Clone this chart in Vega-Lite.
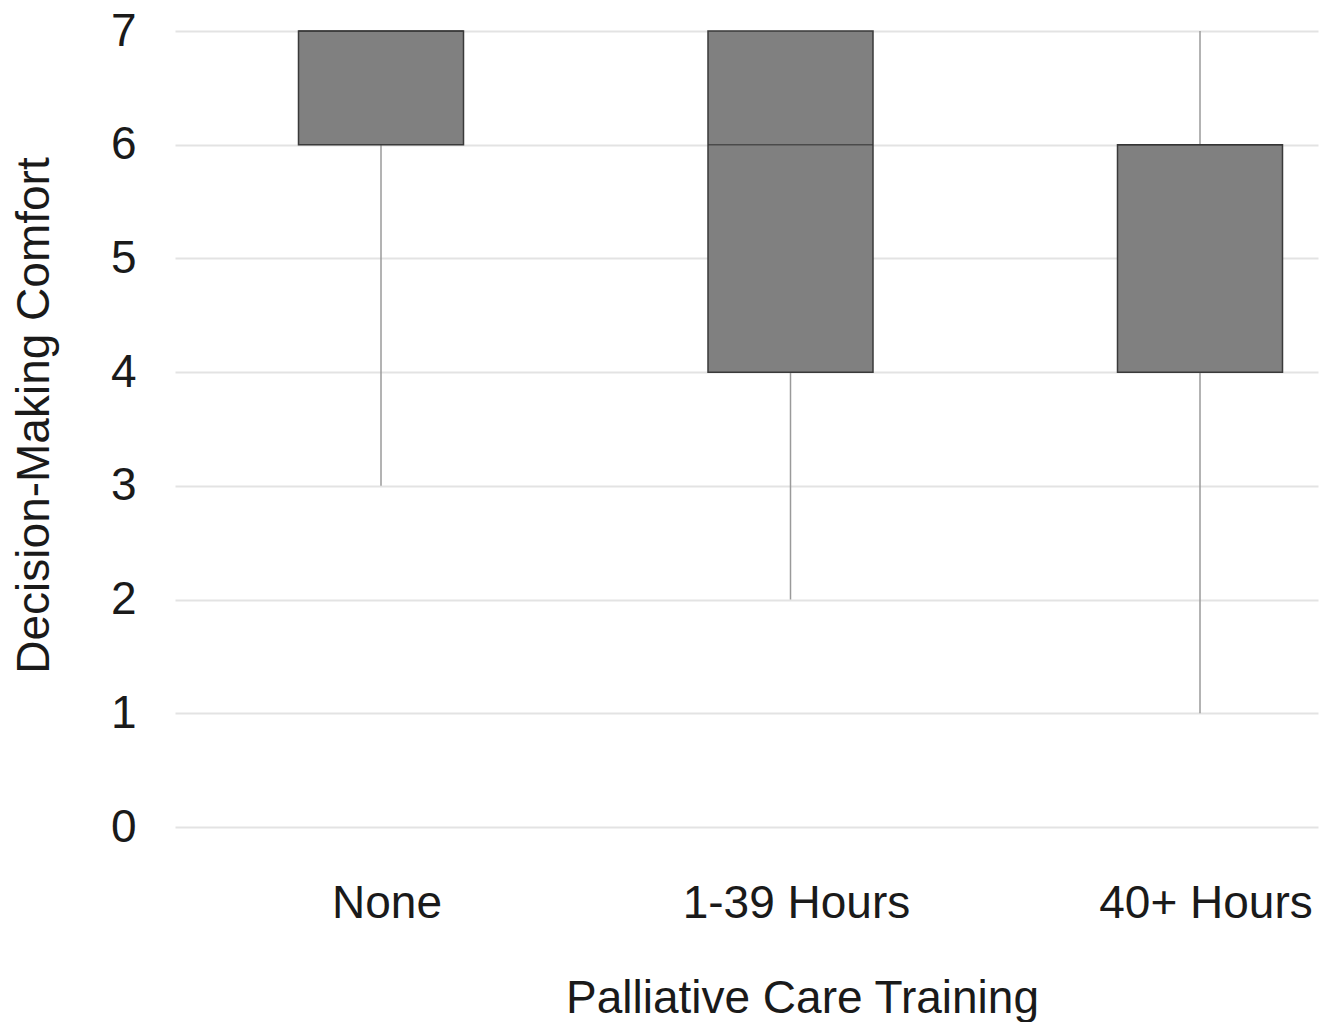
{
  "$schema": "https://vega.github.io/schema/vega-lite/v6.json",
  "width": 1143,
  "height": 796,
  "autosize": "none",
  "padding": {"left": 175, "top": 31, "right": 11, "bottom": 195},
  "background": "white",
  "config": {
    "view": {"stroke": null},
    "font": "Liberation Sans"
  },
  "data": {
    "values": [
      {"training": "None", "lower": 3, "q1": 6, "median": 7, "q3": 7, "upper": 7},
      {"training": "1-39 Hours", "lower": 2, "q1": 4, "median": 6, "q3": 7, "upper": 7},
      {"training": "40+ Hours", "lower": 1, "q1": 4, "median": 6, "q3": 6, "upper": 7}
    ]
  },
  "encoding": {
    "x": {
      "field": "training",
      "type": "nominal",
      "sort": ["None", "1-39 Hours", "40+ Hours"],
      "scale": {"paddingInner": 0.5, "paddingOuter": 0.1456, "align": 0.869},
      "axis": {
        "title": "Palliative Care Training",
        "labelAngle": 0,
        "labelLimit": 0,
        "domain": false,
        "ticks": false,
        "tickSize": 0,
        "grid": false,
        "labelFont": "Liberation Sans",
        "labelFontSize": 46,
        "labelColor": "#1a1a1a",
        "labelBaseline": "alphabetic",
        "labelPadding": 90,
        "labelOffset": 6,
        "titleFont": "Liberation Sans",
        "titleFontSize": 46,
        "titleFontWeight": "normal",
        "titleColor": "#1a1a1a",
        "titleX": 627,
        "titleY": 185,
        "titleAlign": "center",
        "titleBaseline": "alphabetic"
      }
    }
  },
  "layer": [
    {
      "mark": {"type": "rule", "color": "#9a9a9a", "strokeWidth": 1.5},
      "encoding": {
        "y": {
          "field": "lower",
          "type": "quantitative",
          "scale": {"domain": [0, 7], "nice": false},
          "axis": {
            "title": "Decision-Making Comfort",
            "values": [0, 1, 2, 3, 4, 5, 6, 7],
            "format": "d",
            "domain": false,
            "ticks": false,
            "tickSize": 0,
            "grid": true,
            "gridColor": "#e3e3e3",
            "gridWidth": 2,
            "labelFont": "Liberation Sans",
            "labelFontSize": 46,
            "labelColor": "#1a1a1a",
            "labelPadding": 39,
            "labelBaseline": "middle",
            "titleFont": "Liberation Sans",
            "titleFontSize": 46,
            "titleFontWeight": "normal",
            "titleColor": "#1a1a1a",
            "titleX": -127,
            "titleY": 384,
            "titleAngle": -90,
            "titleAlign": "center",
            "titleBaseline": "alphabetic"
          }
        },
        "y2": {"field": "upper"}
      }
    },
    {
      "mark": {"type": "bar", "width": 165, "color": "#808080", "stroke": "#3a3a3a", "strokeWidth": 1.5},
      "encoding": {
        "y": {"field": "q1", "type": "quantitative"},
        "y2": {"field": "q3"}
      }
    },
    {
      "mark": {"type": "tick", "color": "#333333", "size": 165, "thickness": 1.5},
      "encoding": {
        "y": {"field": "median", "type": "quantitative"}
      }
    }
  ]
}
